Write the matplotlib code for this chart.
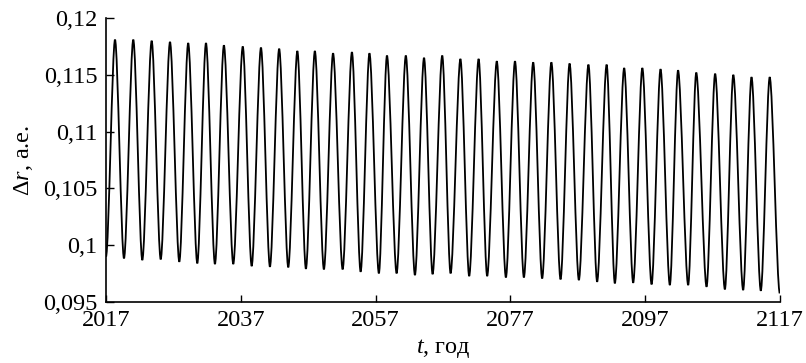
import matplotlib
matplotlib.use("Agg")
import matplotlib.pyplot as plt
from matplotlib.path import Path
from matplotlib.patches import PathPatch
from matplotlib.ticker import FuncFormatter

# peaks and troughs (year, Δr in a.u.)
peak_t = [2018.34, 2021.05, 2023.78, 2026.50, 2029.20, 2031.84, 2034.50, 2037.30,
          2040.00, 2042.70, 2045.40, 2048.00, 2050.70, 2053.50, 2056.10, 2058.70,
          2061.50, 2064.20, 2066.90, 2069.60, 2072.30, 2075.00, 2077.70, 2080.40,
          2083.10, 2085.80, 2088.60, 2091.30, 2093.90, 2096.60, 2099.30, 2101.90,
          2104.60, 2107.40, 2110.10, 2112.80, 2115.50]
peak_v = [0.1181, 0.1181, 0.1180, 0.1179, 0.1178, 0.1178, 0.1176, 0.1175,
          0.1174, 0.1173, 0.1171, 0.1171, 0.1169, 0.1170, 0.1169, 0.1167,
          0.1167, 0.1165, 0.1167, 0.1164, 0.1164, 0.1162, 0.1162, 0.1161,
          0.1161, 0.1160, 0.1159, 0.1159, 0.1156, 0.1156, 0.1155, 0.1154,
          0.1152, 0.1151, 0.1150, 0.1148, 0.1148]
trough_t = [2017.00, 2019.67, 2022.39, 2025.12, 2027.88, 2030.55, 2033.17, 2035.89,
            2038.62, 2041.33, 2044.05, 2046.67, 2049.34, 2052.12, 2054.79, 2057.50,
            2060.13, 2062.85, 2065.47, 2068.14, 2070.90, 2073.57, 2076.35, 2079.02,
            2081.73, 2084.46, 2087.18, 2089.89, 2092.52, 2095.24, 2097.97, 2100.68,
            2103.40, 2106.13, 2108.85, 2111.56, 2114.18, 2117.00]
trough_v = [0.0990, 0.09885, 0.09870, 0.09876, 0.09855, 0.09841, 0.09835, 0.09835,
            0.09817, 0.09811, 0.09806, 0.09793, 0.09788, 0.09788, 0.09767, 0.09753,
            0.09753, 0.09738, 0.09746, 0.09753, 0.09729, 0.09729, 0.09717, 0.09717,
            0.09708, 0.09700, 0.09694, 0.09679, 0.09665, 0.09670, 0.09656, 0.09650,
            0.09650, 0.09635, 0.09612, 0.09606, 0.09600, 0.09577]

x_ticks = [2017, 2037, 2057, 2077, 2097, 2117]
y_ticks = [0.095, 0.1, 0.105, 0.11, 0.115, 0.12]

plt.rcParams['font.family'] = ['Liberation Serif', 'DejaVu Serif']
plt.rcParams['mathtext.fontset'] = 'custom'
plt.rcParams['mathtext.rm'] = 'Liberation Serif'
plt.rcParams['mathtext.it'] = 'Liberation Serif:italic'

# merge peaks and troughs into one time-ordered list
pts = sorted(list(zip(peak_t, peak_v)) + list(zip(trough_t, trough_v)))

# smooth curve through the extrema: cubic Bezier segments with flat tangents
k = 0.3
verts = [pts[0]]
codes = [Path.MOVETO]
for (t0, v0), (t1, v1) in zip(pts[:-1], pts[1:]):
    dt = t1 - t0
    verts += [(t0 + k * dt, v0), (t1 - k * dt, v1), (t1, v1)]
    codes += [Path.CURVE4] * 3

fig = plt.figure(figsize=(8.06, 3.63), dpi=100)
ax = fig.add_axes([0.1315, 0.168, 0.836, 0.782])
ax.add_patch(PathPatch(Path(verts, codes), fill=False, edgecolor='black', linewidth=1.3))

ax.set_xlim(2017, 2117)
ax.set_ylim(0.095, 0.12)
ax.set_xticks(x_ticks)
ax.set_yticks(y_ticks)
ax.yaxis.set_major_formatter(FuncFormatter(lambda y, pos: ('%g' % y).replace('.', ',')))

for s in ['top', 'right']:
    ax.spines[s].set_visible(False)
for s in ['left', 'bottom']:
    ax.spines[s].set_linewidth(1.2)

ax.tick_params(axis='y', direction='in', length=6, width=1.0, labelsize=17.5, pad=6)
ax.tick_params(axis='x', direction='in', length=5, width=1.0, labelsize=17.5, pad=6)

ax.set_xlabel(r'$t$, год', fontsize=17.5, labelpad=4)
ax.set_ylabel(r'$\Delta r$, а.е.', fontsize=17.5, labelpad=6)

fig.savefig('out.png', dpi=100)
